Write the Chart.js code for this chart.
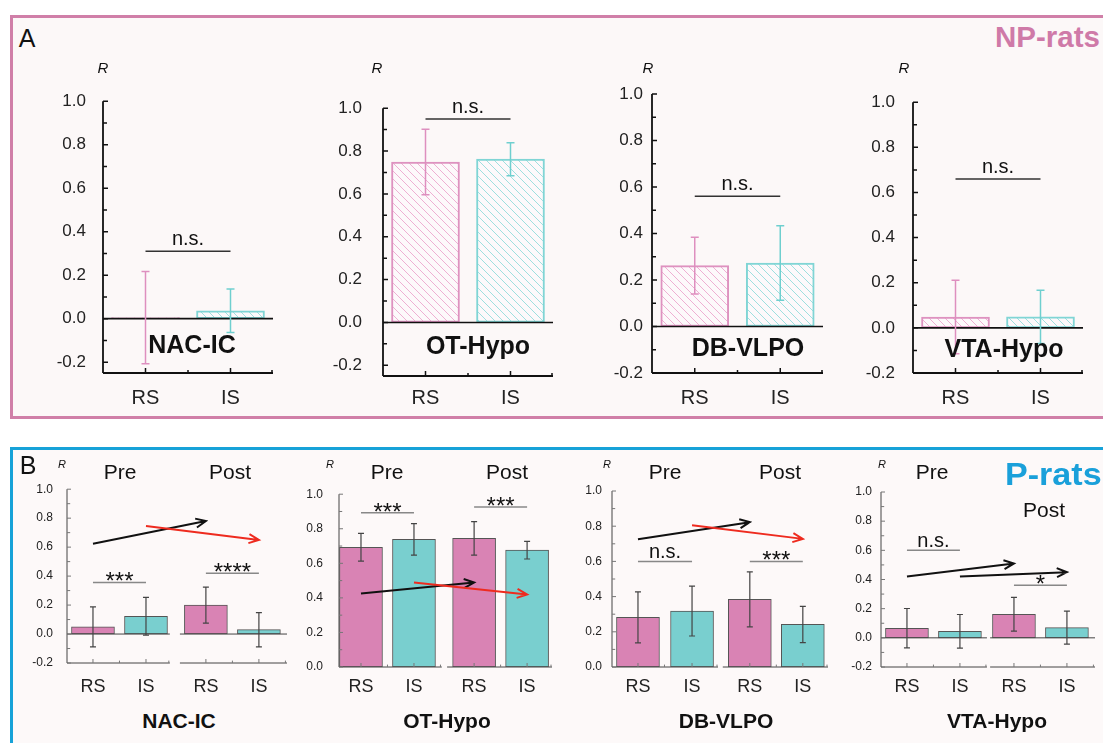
<!DOCTYPE html>
<html>
<head>
<meta charset="utf-8">
<script src="https://cdn.jsdelivr.net/npm/chart.js@4.4.1/dist/chart.umd.min.js"></script>
<style>
html, body { margin: 0; padding: 0; background: #fff; width: 1103px; height: 743px; overflow: hidden;
  font-family: "Liberation Sans", Arial, sans-serif; }
.panel { position: absolute; box-sizing: border-box; border: 3px solid; }
#panelA { left: 10px; top: 15px; width: 1130px; height: 404px; border-color: #d07fa8; background: #fcf8f8; }
#panelB { left: 10px; top: 447px; width: 1130px; height: 330px; border-color: #17a2d8; background: #fdf9f9; }
canvas { position: absolute; z-index: 1; }
.t { position: absolute; z-index: 2; white-space: nowrap; line-height: 1; color: #111; transform: translate(-50%, -50%); }
.t.l { transform: translate(0, -50%); transform-origin: 0 50%; }
</style>
</head>
<body>
<div id="panelA" class="panel"></div>
<div id="panelB" class="panel"></div>
<script>
Chart.defaults.font.family = "'Liberation Sans', Arial, sans-serif";
Chart.defaults.color = '#222';

// ---------------- data ----------------
const groups = ['RS', 'IS'];
const pCategories = ['RS', 'IS', 'RS', 'IS'];
const phases = ['Pre', 'Post'];
const regions = ['NAC-IC', 'OT-Hypo', 'DB-VLPO', 'VTA-Hypo'];
const ticksNeg = [-0.2, 0, 0.2, 0.4, 0.6, 0.8, 1.0];
const ticksPos = [0, 0.2, 0.4, 0.6, 0.8, 1.0];

// A: NP-rats, mean R and SD (RS, IS)
const npNacIc = [0.005, 0.036];   const npNacIcSd = [0.212, 0.100];
const npOtHypo = [0.749, 0.762];  const npOtHypoSd = [0.153, 0.077];
const npDbVlpo = [0.262, 0.273];  const npDbVlpoSd = [0.122, 0.160];
const npVtaHypo = [0.048, 0.049]; const npVtaHypoSd = [0.163, 0.118];
const npSigY = [0.31, 0.95, 0.56, 0.66];

// B: P-rats, mean R and SD (Pre RS, Pre IS, Post RS, Post IS)
const pNacIc = [0.05, 0.123, 0.20, 0.03];     const pNacIcSd = [0.138, 0.13, 0.124, 0.118];
const pOtHypo = [0.693, 0.739, 0.744, 0.676]; const pOtHypoSd = [0.08, 0.091, 0.097, 0.051];
const pDbVlpo = [0.282, 0.318, 0.384, 0.242]; const pDbVlpoSd = [0.145, 0.142, 0.156, 0.103];
const pVtaHypo = [0.066, 0.045, 0.162, 0.07]; const pVtaHypoSd = [0.135, 0.115, 0.116, 0.113];

// significance marks (Pre, Post)
const pNacIcSig = ['***', '****'];  const pNacIcSigY = [0.356, 0.42];
const pOtHypoSig = ['***', '***'];  const pOtHypoSigY = [0.892, 0.926];
const pDbVlpoSig = ['n.s.', '***']; const pDbVlpoSigY = [0.60, 0.60];
const pVtaHypoSig = ['n.s.', '*'];  const pVtaHypoSigY = [0.60, 0.36];

// trend arrows Pre -> Post (start, end)
const pNacIcArrowRS = [0.623, 0.78];   const pNacIcArrowIS = [0.746, 0.65];
const pOtHypoArrowRS = [0.426, 0.489]; const pOtHypoArrowIS = [0.489, 0.42];
const pDbVlpoArrowRS = [0.726, 0.823]; const pDbVlpoArrowIS = [0.806, 0.728];
const pVtaHypoArrowRS = [0.42, 0.51];  const pVtaHypoArrowIS = [0.42, 0.45];

// ---------------- drawing ----------------
const PAD_T = 20, PAD_R = 12, PAD_B = 4;
const FONT = "'Liberation Sans', Arial, sans-serif";

const deco = {
    id: 'deco',
    afterDatasetsDraw(chart, args, o) {
        const { ctx, chartArea: a, scales: { x, y } } = chart;
        const px = v => x.getPixelForValue(v), py = v => y.getPixelForValue(v);
        const segs = o.segments ? o.segments.map(s => [px(s[0]), px(s[1])]) : [[a.left, a.right]];
        ctx.save();

        // zero line
        if (y.min < 0) {
            ctx.strokeStyle = o.axisColor;
            ctx.lineWidth = o.zeroWidth;
            ctx.beginPath();
            segs.forEach(s => { ctx.moveTo(s[0], py(0)); ctx.lineTo(s[1], py(0)); });
            ctx.stroke();
        }

        // error bars
        const meta = chart.getDatasetMeta(0);
        const data = chart.data.datasets[0].data;
        meta.data.forEach((bar, i) => {
            const v = typeof data[i] === 'object' ? data[i].y : data[i];
            const t = py(v + o.sd[i]), b = py(v - o.sd[i]);
            ctx.strokeStyle = o.errColor[i % o.errColor.length];
            ctx.lineWidth = o.errWidth;
            ctx.beginPath();
            ctx.moveTo(bar.x, t); ctx.lineTo(bar.x, b);
            ctx.moveTo(bar.x - o.cap, t); ctx.lineTo(bar.x + o.cap, t);
            ctx.moveTo(bar.x - o.cap, b); ctx.lineTo(bar.x + o.cap, b);
            ctx.stroke();
        });

        // axes
        ctx.strokeStyle = o.axisColor;
        ctx.lineWidth = o.axisWidth;
        ctx.beginPath();
        ctx.moveTo(a.left, a.top); ctx.lineTo(a.left, a.bottom);
        segs.forEach(s => { ctx.moveTo(s[0], a.bottom); ctx.lineTo(s[1], a.bottom); });
        ctx.stroke();

        // inward ticks
        ctx.strokeStyle = o.tickColor;
        ctx.lineWidth = o.tickWidth;
        ctx.beginPath();
        y.ticks.forEach((t, i) => {
            const p = py(t.value);
            ctx.moveTo(a.left, p); ctx.lineTo(a.left + o.tick, p);
            if (i < y.ticks.length - 1) {
                const m = py(t.value + 0.1);
                ctx.moveTo(a.left, m); ctx.lineTo(a.left + o.tick * 0.8, m);
            }
        });
        x.ticks.forEach(t => {
            const p = px(t.value);
            ctx.moveTo(p, a.bottom); ctx.lineTo(p, a.bottom - o.tick);
            const m = px(t.value + 0.5);
            const s = segs.find(s => m >= s[0] - 4 && m <= s[1] + 4);
            if (s) {
                const mm = Math.min(Math.max(m, s[0]), s[1] - 1);
                ctx.moveTo(mm, a.bottom); ctx.lineTo(mm, a.bottom - o.tick * 0.6);
            }
        });
        ctx.stroke();

        // significance bars
        (o.sig || []).forEach(s => {
            const x0 = px(s.from), x1 = px(s.to), yy = py(s.y);
            ctx.strokeStyle = o.sigColor;
            ctx.lineWidth = 1.5;
            ctx.beginPath(); ctx.moveTo(x0, yy); ctx.lineTo(x1, yy); ctx.stroke();
            const star = s.text.includes('*');
            ctx.font = star ? o.starFont : o.nsFont;
            ctx.fillStyle = '#111';
            ctx.textAlign = 'center';
            ctx.textBaseline = 'alphabetic';
            ctx.fillText(s.text, (x0 + x1) / 2, yy + (star ? o.starDy : o.nsDy));
        });

        // arrows
        (o.arrows || []).forEach(r => {
            const x0 = px(r.from), y0 = py(r.y[0]), x1 = px(r.to), y1 = py(r.y[1]);
            const ang = Math.atan2(y1 - y0, x1 - x0), L = 11, w = 0.42;
            ctx.strokeStyle = r.color;
            ctx.lineWidth = 2;
            ctx.beginPath();
            ctx.moveTo(x0, y0); ctx.lineTo(x1, y1);
            ctx.moveTo(x1 - L * Math.cos(ang - w), y1 - L * Math.sin(ang - w));
            ctx.lineTo(x1, y1);
            ctx.lineTo(x1 - L * Math.cos(ang + w), y1 - L * Math.sin(ang + w));
            ctx.stroke();
        });
        ctx.restore();
    }
};
Chart.register(deco);

function hatch(line) {
    const s = 8, c = document.createElement('canvas');
    c.width = s; c.height = s;
    const g = c.getContext('2d');
    g.fillStyle = '#fdf9fb';
    g.fillRect(0, 0, s, s);
    g.strokeStyle = line;
    g.lineWidth = 1;
    g.beginPath();
    for (const k of [-s, 0, s]) { g.moveTo(k, 0); g.lineTo(k + s, s); }
    g.stroke();
    return g.createPattern(c, 'repeat');
}

function mount(area, yw, xh) {
    const c = document.createElement('canvas');
    c.width = area.x1 - area.x0 + yw + PAD_R;
    c.height = area.y1 - area.y0 + PAD_T + xh + PAD_B;
    c.style.left = (area.x0 - yw) + 'px';
    c.style.top = (area.y0 - PAD_T) + 'px';
    document.body.appendChild(c);
    return c;
}

const noGrid = { display: false, drawTicks: false };

function yScale(min, ticks, size, pad, yw) {
    return {
        min: min, max: 1,
        grid: noGrid, border: { display: false },
        afterBuildTicks: s => { s.ticks = ticks.map(v => ({ value: v })); },
        ticks: { font: { size: size }, color: '#222', padding: pad, callback: v => v.toFixed(1) },
        afterFit: s => { s.width = yw; }
    };
}

function npChart(area, vals, sd, sigY, min, yPad, xPad) {
    const c = mount(area, 60, 45);
    return new Chart(c, {
        type: 'bar',
        data: {
            labels: groups,
            datasets: [{
                data: vals,
                backgroundColor: [hatch('#eeb0d3'), hatch('#9fdfdf')],
                borderColor: ['#de92c0', '#80d5d5'],
                borderWidth: 2,
                borderSkipped: false,
                barThickness: 68
            }]
        },
        options: {
            responsive: false, animation: false, events: [],
            layout: { padding: { top: PAD_T, right: PAD_R, bottom: PAD_B, left: 0 } },
            plugins: {
                legend: { display: false }, tooltip: { enabled: false },
                deco: {
                    sd: sd, errColor: ['#de8fbf', '#6fcfcf'], errWidth: 1.5, cap: 4,
                    axisColor: '#111', axisWidth: 1.8, zeroWidth: 1.6,
                    tickColor: '#111', tickWidth: 1.5, tick: 5,
                    sigColor: '#333', nsFont: '20px ' + FONT, nsDy: -6,
                    sig: [{ from: 0, to: 1, y: sigY, text: 'n.s.' }]
                }
            },
            scales: {
                x: {
                    grid: noGrid, border: { display: false },
                    ticks: { font: { size: 20 }, color: '#222', padding: xPad, maxRotation: 0 },
                    afterFit: s => { s.height = 45; }
                },
                y: yScale(min, min < -0.1 ? ticksNeg : ticksPos, 17, yPad, 60)
            }
        }
    });
}

function pChart(area, lay, vals, sd, sig, sigY, arrowRS, arrowIS, arrowColors, min, yPad, xPad) {
    const c = mount(area, 45, 40);
    const pos = lay.pos;
    return new Chart(c, {
        type: 'bar',
        data: {
            datasets: [{
                data: vals.map((v, i) => ({ x: pos[i], y: v })),
                backgroundColor: ['#d983b4', '#79cfcf', '#d983b4', '#79cfcf'],
                borderColor: '#555',
                borderWidth: 1,
                borderSkipped: false,
                barThickness: 43
            }]
        },
        options: {
            responsive: false, animation: false, events: [],
            layout: { padding: { top: PAD_T, right: PAD_R, bottom: PAD_B, left: 0 } },
            plugins: {
                legend: { display: false }, tooltip: { enabled: false },
                deco: {
                    sd: sd, errColor: ['#444'], errWidth: 1.2, cap: 3,
                    axisColor: '#444', axisWidth: 1, zeroWidth: 1,
                    tickColor: '#777', tickWidth: 1, tick: 4,
                    segments: lay.segs,
                    sigColor: '#888', nsFont: '20px ' + FONT, nsDy: -3,
                    starFont: '24px ' + FONT, starDy: 7,
                    sig: [
                        { from: pos[0], to: pos[1], y: sigY[0], text: sig[0] },
                        { from: pos[2], to: pos[3], y: sigY[1], text: sig[1] }
                    ],
                    arrows: [
                        { from: pos[0], to: pos[2], y: arrowRS, color: arrowColors[0] },
                        { from: pos[1], to: pos[3], y: arrowIS, color: arrowColors[1] }
                    ]
                }
            },
            scales: {
                x: {
                    type: 'linear', min: 0, max: lay.max, offset: false,
                    grid: noGrid, border: { display: false },
                    afterBuildTicks: s => { s.ticks = pos.map(v => ({ value: v })); },
                    ticks: { font: { size: 18 }, color: '#222', padding: xPad, maxRotation: 0, autoSkip: false,
                             callback: (v, i) => pCategories[i] },
                    afterFit: s => { s.height = 40; }
                },
                y: yScale(min, min < -0.1 ? ticksNeg : ticksPos, 12, yPad, 45)
            }
        }
    });
}

// panel A: NP-rats
npChart({ x0: 103, x1: 273, y0: 94, y1: 373 }, npNacIc, npNacIcSd, npSigY[0], -0.25, 17, 13);
npChart({ x0: 383, x1: 553, y0: 97, y1: 376 }, npOtHypo, npOtHypoSd, npSigY[1], -0.25, 21, 10);
npChart({ x0: 652, x1: 823, y0: 94, y1: 373 }, npDbVlpo, npDbVlpoSd, npSigY[2], -0.2, 9, 13);
npChart({ x0: 913, x1: 1083, y0: 94, y1: 373 }, npVtaHypo, npVtaHypoSd, npSigY[3], -0.2, 18, 13);

// panel B: P-rats
const RB = ['#111', '#ee2b1f'];
pChart({ x0: 67, x1: 287, y0: 488, y1: 663 },
    { pos: [0.49, 1.49, 2.62, 3.62], max: 4.15, segs: [[0, 1.94], [2.13, 4.15]] },
    pNacIc, pNacIcSd, pNacIcSig, pNacIcSigY, pNacIcArrowRS, pNacIcArrowIS, RB, -0.2, 14, 13);
pChart({ x0: 339, x1: 552, y0: 491, y1: 667 },
    { pos: [0.415, 1.415, 2.55, 3.55], max: 4.02, segs: [[0, 1.94], [2.04, 4.02]] },
    pOtHypo, pOtHypoSd, pOtHypoSig, pOtHypoSigY, pOtHypoArrowRS, pOtHypoArrowIS, RB, 0, 16, 9);
pChart({ x0: 612, x1: 828, y0: 491, y1: 667 },
    { pos: [0.49, 1.51, 2.6, 3.6], max: 4.075, segs: [[0, 2.0], [2.09, 4.075]] },
    pDbVlpo, pDbVlpoSd, pDbVlpoSig, pDbVlpoSigY, pDbVlpoArrowRS, pDbVlpoArrowIS, RB, 0, 10, 9);
pChart({ x0: 881, x1: 1095, y0: 492, y1: 667 },
    { pos: [0.49, 1.49, 2.51, 3.51], max: 4.04, segs: [[0, 2.0], [2.06, 4.04]] },
    pVtaHypo, pVtaHypoSd, pVtaHypoSig, pVtaHypoSigY, pVtaHypoArrowRS, pVtaHypoArrowIS, ['#111', '#111'], -0.2, 9, 9);

// ---------------- text ----------------
function text(str, x, y, font, color, left, stretch) {
    const d = document.createElement('div');
    d.className = left ? 't l' : 't';
    d.textContent = str;
    d.style.left = x + 'px';
    d.style.top = y + 'px';
    d.style.font = font;
    if (color) d.style.color = color;
    if (stretch) d.style.transform = 'translate(0, -50%) scaleX(' + stretch + ')';
    document.body.appendChild(d);
}

text('A', 27, 38, '25px ' + FONT);
text('NP-rats', 995, 37, 'bold 29.5px ' + FONT, '#cf7aa8', true);
[103, 377, 648, 904].forEach(x => text('R', x, 67, 'italic 15px ' + FONT));
[[192, 344], [478, 345], [748, 347], [1004, 348]].forEach((p, i) => text(regions[i], p[0], p[1], 'bold 25px ' + FONT));

text('B', 28, 465, '25px ' + FONT);
text('P-rats', 1005, 475, 'bold 31px ' + FONT, '#1aa0da', true, 1.1);
[62, 330, 607, 882].forEach(x => text('R', x, 464, 'italic 11px ' + FONT));
[[120, 472], [387, 472], [665, 472], [932, 472]].forEach(p => text(phases[0], p[0], p[1], '21px ' + FONT));
[[230, 472], [507, 472], [780, 472], [1044, 510]].forEach(p => text(phases[1], p[0], p[1], '21px ' + FONT));
[179, 447, 726, 997].forEach((x, i) => text(regions[i], x, 721, 'bold 21px ' + FONT));
</script>
</body>
</html>
